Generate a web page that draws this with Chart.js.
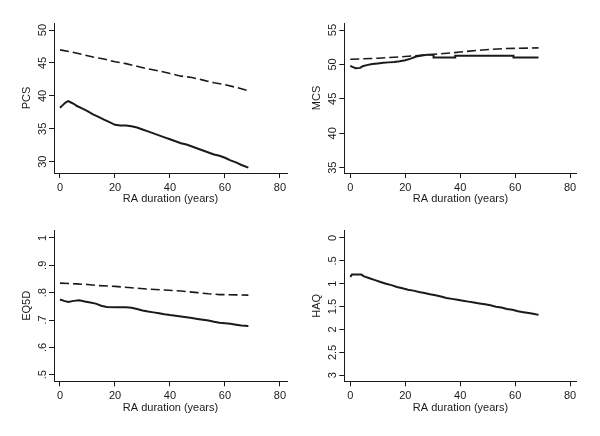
<!DOCTYPE html>
<html>
<head>
<meta charset="utf-8">
<script src="https://cdn.jsdelivr.net/npm/chart.js@4"></script>
<style>
    body { margin: 0; background: #fff; }
    .panel { position: absolute; width: 300px; height: 218px; }
</style>
</head>
<body>
<div class="panel" style="left:0;top:0"><canvas id="pcs" width="300" height="218"></canvas></div>
<div class="panel" style="left:300px;top:0"><canvas id="mcs" width="300" height="218"></canvas></div>
<div class="panel" style="left:0;top:218px"><canvas id="eq5d" width="300" height="218"></canvas></div>
<div class="panel" style="left:300px;top:218px"><canvas id="haq" width="300" height="218"></canvas></div>
<script>
const xTicks = [0, 20, 40, 60, 80]

const pcsTicks = [30, 35, 40, 45, 50]
const mcsTicks = [35, 40, 45, 50, 55]
const eqTicks = [0.5, 0.6, 0.7, 0.8, 0.9, 1]
const eqTickLabels = ['.5', '.6', '.7', '.8', '.9', '1']
const haqTicks = [0, 0.5, 1, 1.5, 2, 2.5, 3]
const haqTickLabels = ['0', '.5', '1', '1.5', '2', '2.5', '3']

// PCS
const pcsSolidYears = [0, 1, 2, 3, 4, 5, 6, 8, 10, 12, 14, 16, 18, 20, 22, 24, 26, 28, 30, 32, 34, 36, 38, 40, 42, 44, 46, 48, 50, 52, 54, 56, 58, 60, 62, 64, 66, 68.5]
const pcsSolid = [38.2, 38.6, 39.0, 39.2, 39.0, 38.8, 38.5, 38.1, 37.7, 37.2, 36.8, 36.4, 36.0, 35.6, 35.5, 35.5, 35.4, 35.2, 34.9, 34.6, 34.3, 34.0, 33.7, 33.4, 33.1, 32.8, 32.6, 32.3, 32.0, 31.7, 31.4, 31.1, 30.9, 30.6, 30.2, 29.9, 29.5, 29.1]
const pcsDashYears = [0, 4, 8, 12, 16, 20, 24, 28, 32, 36, 40, 44, 48, 52, 56, 60, 64, 68.5]
const pcsDash = [47.0, 46.7, 46.3, 45.9, 45.6, 45.2, 44.9, 44.5, 44.1, 43.8, 43.4, 43.0, 42.8, 42.4, 42.0, 41.7, 41.3, 40.8]

// MCS
const mcsSolidYears = [0, 1, 2, 3.6, 4.5, 6, 8, 10, 12, 14, 16, 18, 20, 22, 24, 26, 28, 30.3, 30.3, 38.2, 38.2, 59.4, 59.4, 68.5]
const mcsSolid = [49.8, 49.6, 49.45, 49.5, 49.75, 49.9, 50.05, 50.15, 50.25, 50.3, 50.35, 50.45, 50.6, 50.85, 51.15, 51.3, 51.4, 51.4, 51.0, 51.0, 51.25, 51.25, 51.0, 51.0]
const mcsDashYears = [0, 10, 20, 30, 40, 48, 56, 68.5]
const mcsDash = [50.75, 50.9, 51.15, 51.45, 51.8, 52.1, 52.3, 52.4]

// EQ5D
const eqSolidYears = [0, 1.5, 3, 5, 7, 9, 11, 13, 15, 17, 20, 24, 26, 28, 30, 32, 34, 36, 38, 40, 42, 44, 46, 48, 50, 52, 54, 56, 58, 60, 62, 64, 66, 68.5]
const eqSolid = [0.775, 0.770, 0.766, 0.770, 0.772, 0.768, 0.764, 0.760, 0.752, 0.748, 0.747, 0.747, 0.745, 0.740, 0.735, 0.731, 0.728, 0.725, 0.721, 0.718, 0.716, 0.713, 0.710, 0.707, 0.704, 0.701, 0.698, 0.694, 0.690, 0.688, 0.686, 0.683, 0.680, 0.678]
const eqDashYears = [0, 6, 10, 14, 20, 26, 32, 38, 44, 50, 54, 58, 64, 68.5]
const eqDash = [0.835, 0.832, 0.830, 0.826, 0.823, 0.818, 0.813, 0.810, 0.806, 0.800, 0.796, 0.793, 0.792, 0.791]

// HAQ
const haqYears = [0, 0.6, 4, 5, 7, 9, 11, 13, 15, 17, 19, 21, 23, 25, 27, 29, 31, 33, 35, 37, 39, 41, 43, 45, 47, 49, 51, 53, 55, 57, 59, 61, 63, 65, 67, 68.5]
const haqSolid = [0.85, 0.80, 0.80, 0.84, 0.88, 0.92, 0.96, 1.00, 1.03, 1.07, 1.10, 1.13, 1.15, 1.18, 1.20, 1.23, 1.25, 1.28, 1.31, 1.33, 1.35, 1.37, 1.39, 1.41, 1.43, 1.45, 1.47, 1.50, 1.52, 1.55, 1.57, 1.60, 1.62, 1.64, 1.66, 1.68]

const ink = '#1a1a1a'
const fontFamily = '"Liberation Sans", Arial, Helvetica, sans-serif'

const toPoints = (years, values) => years.map((t, i) => ({x: t, y: values[i]}))

const solidSet = (years, values) => ({
    data: toPoints(years, values),
    borderColor: ink,
    borderWidth: 2,
    pointRadius: 0,
    tension: 0,
    fill: false
})

const dashSet = (years, values) => ({
    data: toPoints(years, values),
    borderColor: ink,
    borderWidth: 1.6,
    borderDash: [9, 4],
    pointRadius: 0,
    fill: false
})

const makePanel = (id, cfg) => {
    const axisLook = {
        grid: {drawOnChartArea: false, drawTicks: true, tickLength: 5, color: ink, lineWidth: 1},
        border: {display: true, color: ink, width: 1}
    }

    new Chart(document.getElementById(id), {
        type: 'line',
        data: {datasets: cfg.datasets},
        options: {
            responsive: false,
            animation: false,
            events: [],
            layout: {padding: {left: 0, top: cfg.top, right: cfg.right, bottom: 0}},
            plugins: {legend: {display: false}, tooltip: {enabled: false}},
            scales: {
                x: {
                    type: 'linear',
                    min: -2.18,
                    max: cfg.xMax,
                    ...axisLook,
                    afterBuildTicks: (s) => { s.ticks = xTicks.map(v => ({value: v})) },
                    afterFit: (s) => { s.height = cfg.xHeight },
                    ticks: {
                        color: ink, font: {family: fontFamily, size: 11},
                        maxRotation: 0, minRotation: 0, padding: 3,
                        callback: (v, i) => String(xTicks[i])
                    },
                    title: {
                        display: true, text: 'RA duration (years)', color: ink,
                        font: {family: fontFamily, size: 11},
                        padding: {top: 0, bottom: cfg.xTitlePad}
                    }
                },
                y: {
                    type: 'linear',
                    min: cfg.yMin,
                    max: cfg.yMax,
                    reverse: !!cfg.reverse,
                    ...axisLook,
                    afterBuildTicks: (s) => { s.ticks = cfg.yTicks.map(v => ({value: v})) },
                    afterFit: (s) => { s.width = cfg.yWidth },
                    ticks: {
                        color: ink, font: {family: fontFamily, size: 11},
                        minRotation: 90, maxRotation: 90, crossAlign: 'center',
                        padding: cfg.tickPad,
                        callback: (v, i) => cfg.yLabels[i]
                    },
                    title: {
                        display: true, text: cfg.title, color: ink,
                        font: {family: fontFamily, size: 11},
                        padding: {top: cfg.titlePad, bottom: 0}
                    }
                }
            }
        }
    })
}

const init = () => {
    makePanel('pcs', {
        datasets: [dashSet(pcsDashYears, pcsDash), solidSet(pcsSolidYears, pcsSolid)],
        top: 23, right: 13, xHeight: 45, yWidth: 54, xMax: 82.55, xTitlePad: 12,
        yMin: 28.28, yMax: 51.08, yTicks: pcsTicks, yLabels: pcsTicks.map(String),
        title: 'PCS', titlePad: 20, tickPad: 0.4
    })

    makePanel('mcs', {
        datasets: [dashSet(mcsDashYears, mcsDash), solidSet(mcsSolidYears, mcsSolid)],
        top: 23, right: 23.3, xHeight: 45, yWidth: 44.3, xMax: 82.4, xTitlePad: 12,
        yMin: 34.23, yMax: 56.02, yTicks: mcsTicks, yLabels: mcsTicks.map(String),
        title: 'MCS', titlePad: 10, tickPad: 0.4
    })

    makePanel('eq5d', {
        datasets: [dashSet(eqDashYears, eqDash), solidSet(eqSolidYears, eqSolid)],
        top: 12.3, right: 13, xHeight: 54.7, yWidth: 54, xMax: 82.55, xTitlePad: 21,
        yMin: 0.476, yMax: 1.028, yTicks: eqTicks, yLabels: eqTickLabels,
        title: 'EQ5D', titlePad: 20.5, tickPad: 1.9
    })

    makePanel('haq', {
        datasets: [solidSet(haqYears, haqSolid)],
        top: 12.3, right: 23.3, xHeight: 54.7, yWidth: 44.3, xMax: 82.4, xTitlePad: 21,
        yMin: -0.168, yMax: 3.131, reverse: true, yTicks: haqTicks, yLabels: haqTickLabels,
        title: 'HAQ', titlePad: 10, tickPad: -1.1
    })
}

init()
</script>
</body>
</html>
